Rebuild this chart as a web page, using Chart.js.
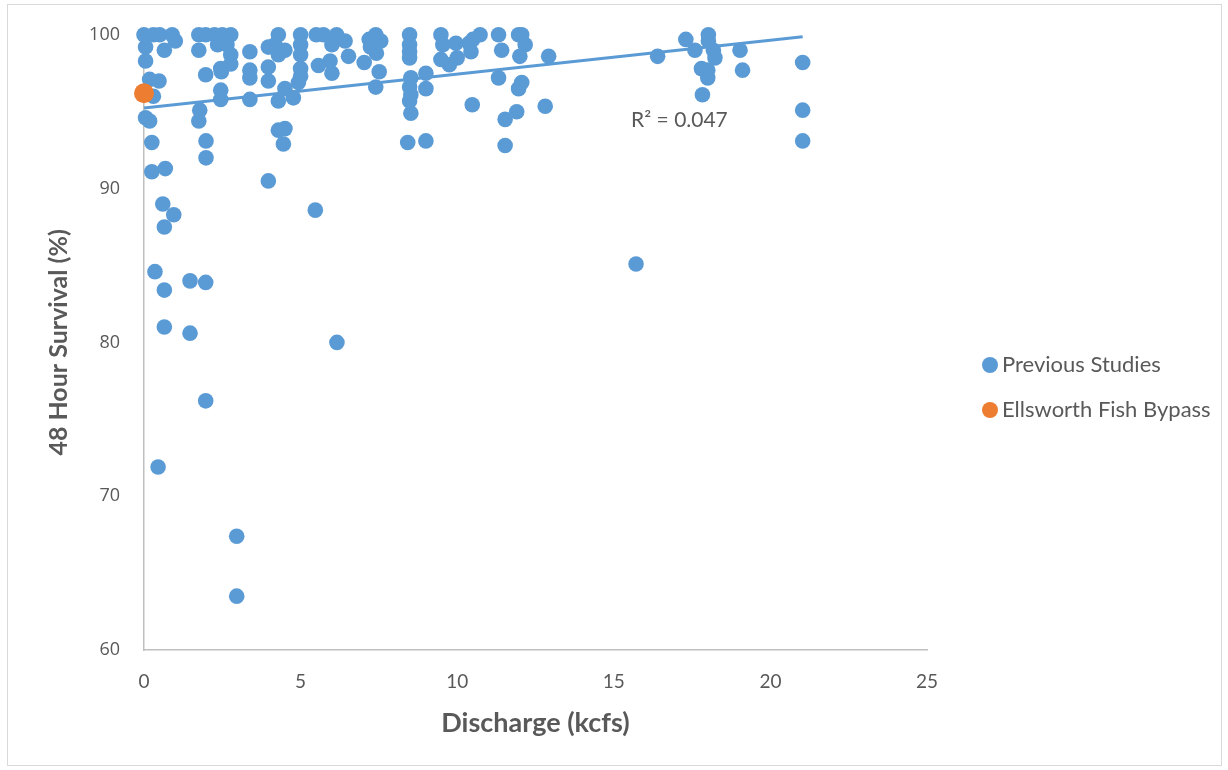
<!DOCTYPE html>
<html>
<head>
<meta charset="utf-8">
<title>48 Hour Survival vs Discharge</title>
<script src="https://cdn.jsdelivr.net/npm/chart.js@4.4.1/dist/chart.umd.min.js"></script>
<style>
  html, body { margin: 0; padding: 0; background: #ffffff; }
  #wrap { position: relative; width: 1228px; height: 770px; }
  #frame { position: absolute; left: 7px; top: 4px; width: 1213px; height: 760px; border: 1px solid #d9d9d9; pointer-events: none; }
  canvas { position: absolute; left: 0; top: 0; }
</style>
</head>
<body>
<div id="wrap">
  <canvas id="survival" width="1228" height="770"></canvas>
  <div id="frame"></div>
</div>
<script>
// discharge (kcfs) and 48 h survival (%) from earlier studies
const prevX = [
  0.0, 0.3, 0.5, 0.9, 1.0, 0.05, 0.65, 0.05, 0.18, 0.48, 0.3, 0.05, 0.18, 0.25, 0.25, 0.68, 0.6, 0.95, 0.65, 0.35, 0.65, 0.65, 0.45,
  1.75, 1.97, 1.75, 1.97, 1.78, 1.75, 1.98, 1.98, 1.47, 1.97, 1.47, 1.97,
  2.25, 2.5, 2.77, 2.35, 2.65, 2.77, 2.77, 2.45, 2.47, 2.45, 2.45, 2.96, 2.96,
  3.38, 3.38, 3.38, 3.38,
  3.97, 3.97, 3.97, 3.97,
  4.29, 4.18, 4.5, 4.29, 4.5, 4.29, 4.77, 4.29, 4.5, 4.45,
  5.0, 5.0, 5.0, 5.0, 5.0, 4.93,
  5.5, 5.73, 5.57, 5.47, 6.15, 6.0, 6.42, 6.53, 5.94, 6.0, 6.16,
  7.03, 7.4, 7.19, 7.56, 7.23, 7.42, 7.51, 7.4,
  8.48, 8.48, 8.48, 8.48, 8.52, 8.48, 8.52, 8.48, 8.52, 8.42,
  9.0, 9.0, 9.0,
  9.48, 9.54, 9.48, 9.75, 9.96, 10.0, 10.38, 10.44, 10.48, 10.73, 10.5,
  11.32, 11.42, 11.32, 11.96, 12.06, 12.17, 12.0, 12.06, 11.96, 11.9, 11.53, 11.53, 12.92, 12.81,
  15.71, 16.4, 17.3, 17.59, 18.02, 18.02, 18.18, 18.23, 17.8, 18.0, 18.0, 17.83, 19.03, 19.11,
  21.03, 21.03, 21.03
];
const prevY = [
  100, 100, 100, 100, 99.6, 99.2, 99.0, 98.3, 97.1, 97.0, 96.0, 94.6, 94.4, 93.0, 91.1, 91.3, 89.0, 88.3, 87.5, 84.6, 83.4, 81.0, 71.9,
  100, 100, 99.0, 97.4, 95.1, 94.4, 93.1, 92.0, 84.0, 83.9, 80.6, 76.2,
  100, 100, 100, 99.35, 99.35, 98.7, 98.1, 97.8, 97.6, 96.4, 95.8, 67.4, 63.5,
  98.9, 97.7, 97.2, 95.8,
  99.2, 97.9, 97.0, 90.5,
  100, 99.35, 99.0, 98.7, 96.5, 95.7, 95.9, 93.8, 93.9, 92.9,
  100, 99.35, 98.7, 97.8, 97.3, 96.9,
  100, 100, 98.0, 88.6, 100, 99.35, 99.6, 98.6, 98.3, 97.5, 80.0,
  98.2, 100, 99.7, 99.6, 99.2, 98.8, 97.6, 96.6,
  100, 99.35, 98.9, 98.5, 97.2, 96.6, 96.1, 95.7, 94.9, 93.0,
  97.5, 96.5, 93.1,
  100, 99.35, 98.4, 98.05, 99.45, 98.5, 99.45, 98.9, 95.45, 100, 99.7,
  100, 99.0, 97.2, 100, 100, 99.35, 98.6, 96.9, 96.5, 95.0, 94.5, 92.8, 98.6, 95.35,
  85.1, 98.6, 99.7, 99.0, 100, 99.6, 99.0, 98.5, 97.8, 97.7, 97.2, 96.1, 99.0, 97.7,
  98.2, 95.1, 93.1
];

// Ellsworth bypass result
const bypassX = [0];
const bypassY = [96.2];

// linear trendline end points and its fit
const trendX = [0, 21.03];
const trendY = [95.24, 99.87];
const rSquared = '0.047';

const seriesNames = ['Previous Studies', 'Ellsworth Fish Bypass'];

const toPoints = (xs, ys) => xs.map((x, i) => ({ x: x, y: ys[i] }));

const BLUE = '#5b9bd5';
const ORANGE = '#ed7d31';
const TEXT = '#595959';

// legend on the right plus the R² note next to the trendline
const extras = {
  id: 'extras',
  afterDraw(chart) {
    const c = chart.ctx;
    c.save();
    c.textBaseline = 'middle';
    c.textAlign = 'left';
    c.font = '22px Lato, "Open Sans", sans-serif';
    const rows = [[seriesNames[0], BLUE, 365], [seriesNames[1], ORANGE, 410]];
    rows.forEach(([label, color, y]) => {
      c.fillStyle = color;
      c.beginPath();
      c.arc(990, y, 8, 0, Math.PI * 2);
      c.fill();
      c.fillStyle = TEXT;
      c.fillText(label, 1002, y);
    });
    const xs = chart.scales.x, ys = chart.scales.y;
    c.font = '21px Lato, "Open Sans", sans-serif';
    c.fillStyle = TEXT;
    c.fillText('R² = ' + rSquared, xs.getPixelForValue(15.55), ys.getPixelForValue(94.42));
    c.restore();
  }
};

new Chart(document.getElementById('survival'), {
  type: 'scatter',
  data: {
    datasets: [{
      label: seriesNames[0],
      data: toPoints(prevX, prevY),
      backgroundColor: BLUE,
      borderColor: BLUE,
      borderWidth: 0,
      pointRadius: 7.8,
      pointHoverRadius: 7.8,
      clip: false,
      order: 3
    }, {
      label: seriesNames[1],
      data: toPoints(bypassX, bypassY),
      backgroundColor: ORANGE,
      borderColor: ORANGE,
      borderWidth: 0,
      pointRadius: 10,
      pointHoverRadius: 10,
      clip: false,
      order: 1
    }, {
      label: 'Linear (Previous Studies)',
      type: 'line',
      data: toPoints(trendX, trendY),
      borderColor: BLUE,
      borderWidth: 3,
      pointRadius: 0,
      fill: false,
      clip: false,
      order: 2
    }]
  },
  options: {
    responsive: false,
    animation: false,
    layout: {
      padding: { left: 0, right: 301, top: 34, bottom: 0 }
    },
    plugins: {
      legend: { display: false },
      tooltip: { enabled: false }
    },
    scales: {
      x: {
        type: 'linear',
        min: 0,
        max: 25,
        ticks: {
          stepSize: 5,
          padding: 20,
          color: TEXT,
          font: { family: '"Liberation Sans Narrow", Lato, sans-serif', size: 19 }
        },
        grid: { display: false, drawTicks: false },
        border: { display: true, color: '#bfbfbf', width: 1.5 },
        title: {
          display: true,
          text: 'Discharge (kcfs)',
          color: TEXT,
          font: { family: 'Lato, "Open Sans", sans-serif', size: 27, weight: 'bold' },
          padding: { top: 4, bottom: 31 }
        },
        afterFit(scale) { scale.height = 120; }
      },
      y: {
        type: 'linear',
        min: 60,
        max: 100,
        ticks: {
          stepSize: 10,
          padding: 24,
          color: TEXT,
          font: { family: '"Open Sans", sans-serif', size: 18 }
        },
        grid: { display: false, drawTicks: false },
        border: { display: true, color: '#bfbfbf', width: 1.5 },
        title: {
          display: true,
          text: '48 Hour Survival (%)',
          color: TEXT,
          font: { family: 'Lato, "Open Sans", sans-serif', size: 25, weight: 'bold' },
          padding: { top: 44, bottom: 0 }
        },
        afterFit(scale) { scale.width = 144; }
      }
    }
  },
  plugins: [extras]
});
</script>
</body>
</html>
